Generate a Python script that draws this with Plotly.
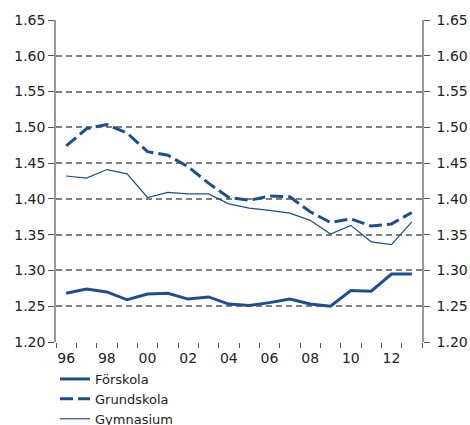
import plotly.graph_objects as go

# Data (years 1996-2013)
years = list(range(1996, 2014))
forskola = [1.268, 1.274, 1.270, 1.259, 1.267, 1.268, 1.260, 1.263, 1.253,
            1.251, 1.255, 1.260, 1.253, 1.250, 1.272, 1.271, 1.295, 1.295]
grundskola = [1.474, 1.498, 1.504, 1.492, 1.466, 1.461, 1.445, 1.422, 1.402,
              1.398, 1.404, 1.403, 1.382, 1.367, 1.372, 1.362, 1.365, 1.381]
gymnasium = [1.432, 1.429, 1.441, 1.435, 1.402, 1.409, 1.407, 1.407, 1.393,
             1.387, 1.384, 1.380, 1.370, 1.351, 1.363, 1.340, 1.336, 1.368]
label_years = list(range(1996, 2013, 2))
y_ticks = [1.20, 1.25, 1.30, 1.35, 1.40, 1.45, 1.50, 1.55, 1.60, 1.65]

blue = "#1f4e8f"
font = dict(family="DejaVu Sans, Verdana", size=14, color="#222222")

fig = go.Figure()
fig.add_trace(go.Scatter(x=years, y=forskola, name="Förskola", mode="lines",
                         line=dict(color=blue, width=3)))
fig.add_trace(go.Scatter(x=years, y=grundskola, name="Grundskola", mode="lines",
                         line=dict(color=blue, width=3, dash="13px,5px")))
fig.add_trace(go.Scatter(x=years, y=gymnasium, name="Gymnasium", mode="lines",
                         line=dict(color=blue, width=1.2)))
# invisible trace to activate the secondary axes
fig.add_trace(go.Scatter(x=years, y=forskola, xaxis="x2", yaxis="y2", mode="lines",
                         line=dict(width=0), showlegend=False, hoverinfo="skip"))

W, H = 470, 425
xr = [years[0] - 0.5, years[-1] + 0.5]
fig.update_layout(
    width=W, height=H,
    margin=dict(l=56, r=48, t=20, b=83, autoexpand=False),
    paper_bgcolor="white", plot_bgcolor="white",
    font=font,
    showlegend=True,
    legend=dict(x=55 / W, y=1 - 364 / H, xref="container", yref="container",
                xanchor="left", yanchor="top",
                font=dict(size=13), tracegroupgap=0,
                bgcolor="rgba(0,0,0,0)"),
    xaxis=dict(range=xr, tickvals=[y - 0.5 for y in years] + [years[-1] + 0.5],
               ticktext=[""] * (len(years) + 1), ticks="outside", ticklen=5,
               tickcolor="#555555", showgrid=False, zeroline=False,
               showline=False),
    xaxis2=dict(range=xr, overlaying="x", tickvals=label_years,
                ticktext=[str(y)[2:] for y in label_years], ticks="",
                showgrid=False, zeroline=False, showline=False,
                side="bottom", ticklabelstandoff=6),
    yaxis=dict(range=[1.20, 1.65], tickvals=y_ticks,
               ticktext=[f"{v:.2f}" for v in y_ticks],
               ticks="outside", ticklen=6, tickcolor="#555555",
               showgrid=True, gridcolor="#808080", griddash="6px,4px", gridwidth=1.6,
               showline=True, linecolor="#999999", linewidth=1.5, zeroline=False),
    yaxis2=dict(range=[1.20, 1.65], tickvals=y_ticks,
                ticktext=[f"{v:.2f}" for v in y_ticks], overlaying="y", side="right",
                ticks="outside", ticklen=6, tickcolor="#555555", ticklabelstandoff=4,
                showgrid=False, showline=True, linecolor="#999999", linewidth=1.5,
                zeroline=False),
)

# drop the default 8px page margin so the figure fills the window exactly
fig.write_html("out.html", config={"displayModeBar": False},
               post_script="document.body.style.margin='0';")
